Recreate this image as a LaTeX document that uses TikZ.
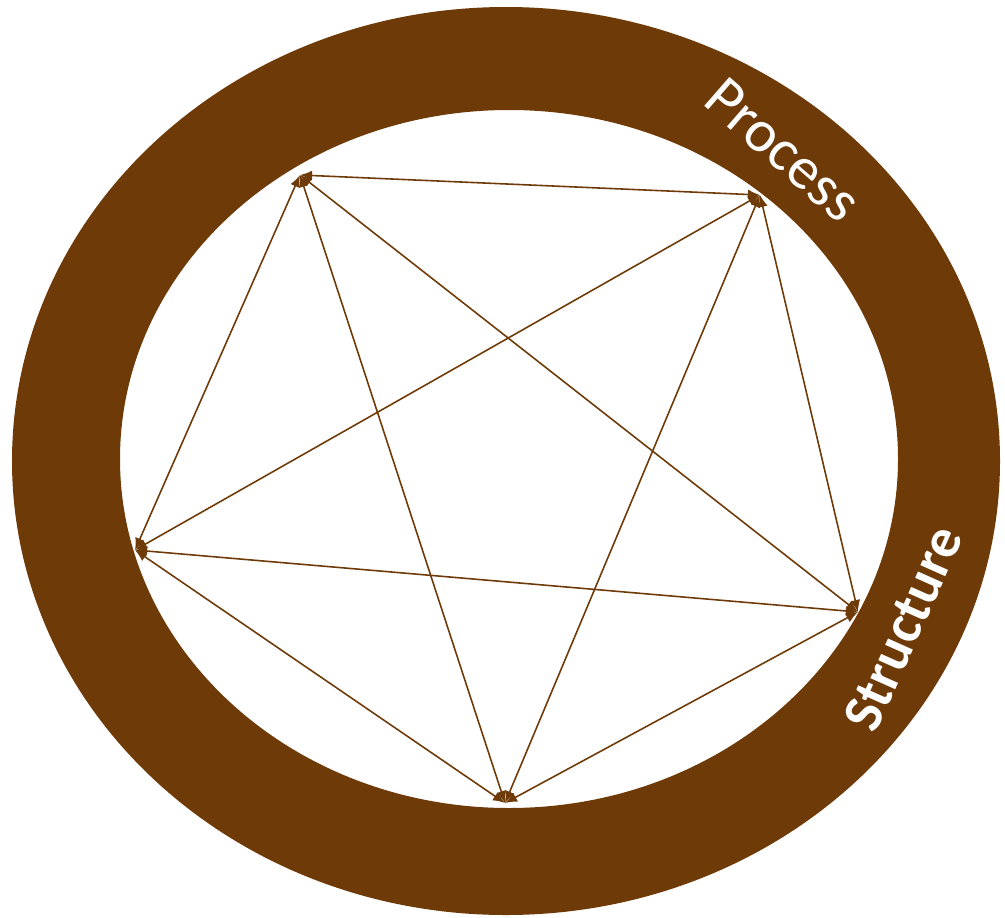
\documentclass[tikz,border=0pt]{standalone}
\usetikzlibrary{arrows.meta}
\usepackage{fontspec}
\setmainfont{Carlito}
\definecolor{ringbrown}{RGB}{110,58,8}

\begin{document}
\begin{tikzpicture}[line width=0.45pt,>={Latex[length=1.2mm,width=1.0mm]}]
\useasboundingbox (0,0) rectangle (10.05,9.17);
% Ring: outer ellipse minus inner ellipse
\fill[ringbrown,even odd rule] (5.06,4.56) ellipse (4.94 and 4.54)
                               (5.09,4.58) ellipse (3.89 and 3.49);
% Five corners on the inner edge
\coordinate (pA) at (3.00,7.42);
\coordinate (pB) at (7.60,7.22);
\coordinate (pC) at (1.35,3.67);
\coordinate (pD) at (8.58,3.05);
\coordinate (pE) at (5.05,1.14);
% Every corner linked to every other
\foreach \a/\b in {pA/pB,pA/pC,pA/pD,pA/pE,pB/pC,pB/pD,pB/pE,pC/pD,pC/pE,pD/pE}
  \draw[<->,ringbrown] (\a) -- (\b);
% Labels on the ring
\node[white,rotate=-41,font=\fontsize{17}{20}\selectfont] (process) at (7.83,7.67) {Process};
\node[white,rotate=66,font=\fontsize{16}{19}\selectfont\bfseries] (structure) at (9.03,2.89) {Structure};
\end{tikzpicture}
\end{document}
